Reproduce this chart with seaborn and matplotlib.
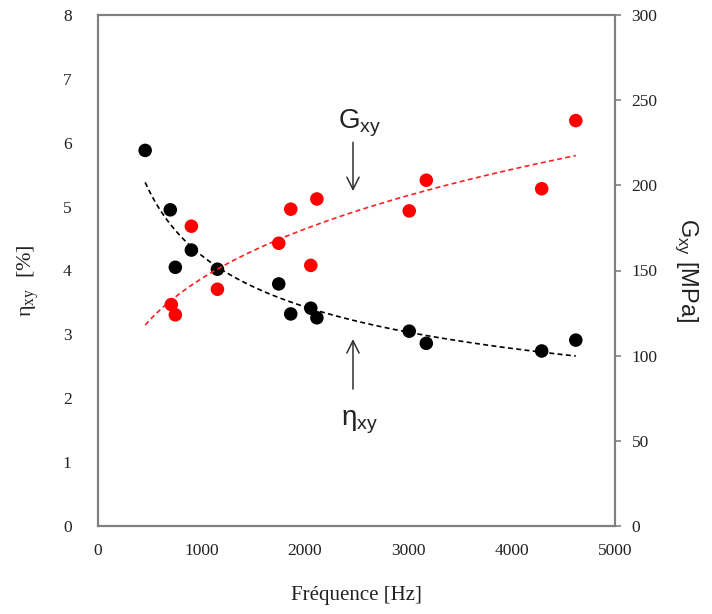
import numpy as np
import pandas as pd
import matplotlib
matplotlib.use("Agg")
import matplotlib.pyplot as plt
import seaborn as sns

# --- data ---
freq_eta = [456, 699, 748, 903, 1155, 1748, 1864, 2058, 2117, 3010, 3175, 4291, 4621]
eta = [5.88, 4.95, 4.05, 4.32, 4.02, 3.79, 3.32, 3.41, 3.26, 3.05, 2.86, 2.74, 2.91]
freq_G = [709, 748, 903, 1155, 1748, 1864, 2058, 2117, 3010, 3175, 4291, 4621]
G = [130, 124, 176, 139, 166, 186, 153, 192, 185, 203, 198, 238]
# power-law trend lines (a * f^b)
eta_trend = (5.38 * 456 ** 0.304, -0.304)
G_trend = (118.0 / 456 ** 0.264, 0.264)
trend_range = [456, 4621]
xticks = [0, 1000, 2000, 3000, 4000, 5000]
yticks_left = [0, 1, 2, 3, 4, 5, 6, 7, 8]
yticks_right = [0, 50, 100, 150, 200, 250, 300]

sns.set_theme(style="white")
plt.rcParams["font.family"] = ["Liberation Serif", "DejaVu Serif"]
plt.rcParams["mathtext.fontset"] = "custom"
plt.rcParams["mathtext.rm"] = "Liberation Sans"

fig = plt.figure(figsize=(7.12, 6.14), dpi=100)
ax = fig.add_axes([98 / 712, 1 - 526 / 614, (615 - 98) / 712, (526 - 15) / 614])
ax2 = ax.twinx()

df_eta = pd.DataFrame({"f": freq_eta, "v": eta})
df_G = pd.DataFrame({"f": freq_G, "v": G})
ff = np.linspace(trend_range[0], trend_range[1], 200)
df_eta_t = pd.DataFrame({"f": ff, "v": eta_trend[0] * ff ** eta_trend[1]})
df_G_t = pd.DataFrame({"f": ff, "v": G_trend[0] * ff ** G_trend[1]})

sns.lineplot(data=df_eta_t, x="f", y="v", ax=ax, color="black", lw=1.2,
             linestyle=(0, (3, 2)), zorder=3)
sns.scatterplot(data=df_eta, x="f", y="v", ax=ax, color="black", s=95,
                edgecolor="none", zorder=4)
sns.lineplot(data=df_G_t, x="f", y="v", ax=ax2, color="#ff2020", lw=1.2,
             linestyle=(0, (3, 2)), zorder=3)
sns.scatterplot(data=df_G, x="f", y="v", ax=ax2, color="#ff0000", s=95,
                edgecolor="none", zorder=4)

ax.set_xlim(0, 5000)
ax.set_ylim(0, 8)
ax2.set_ylim(0, 300)
ax.set_xticks(xticks)
ax.set_yticks(yticks_left)
ax2.set_yticks(yticks_right)
ax.tick_params(axis="x", labelsize=12.5, length=0, pad=12, labelcolor="#222222")
ax.tick_params(axis="y", labelsize=12.5, length=0, pad=19, labelcolor="#222222")
ax2.tick_params(axis="y", labelsize=12.5, length=4, width=1.2, color="#808080",
                direction="out", right=True, pad=8, labelcolor="#222222")

for a in (ax, ax2):
    for sp in a.spines.values():
        sp.set_color("#808080")
        sp.set_linewidth(1.5)
    a.grid(False)

ax.set_xlabel("Fréquence [Hz]", fontsize=15, labelpad=20, color="#222222")
ax.set_ylabel(r"$\mathregular{\eta_{xy}}$  [%]", fontsize=16, color="#222222")
ax.yaxis.set_label_coords(-0.11, 0.48)
ax2.set_ylabel(r"$\mathregular{G_{xy}}$ [MPa]", fontsize=17, rotation=270,
               labelpad=30, family="Liberation Sans", color="#222222")

# annotations
ax.text(2530, 6.3, r"$\mathregular{G_{xy}}$", fontsize=20, ha="center",
        va="center", family="Liberation Sans", color="#222222")
ax.annotate("", xy=(2466, 5.2), xytext=(2466, 6.05),
            arrowprops=dict(arrowstyle="->", color="#303030", lw=1.1,
                            mutation_scale=22))
ax.text(2530, 1.62, r"$\mathregular{\eta_{xy}}$", fontsize=20, ha="center",
        va="center", family="Liberation Sans", color="#222222")
ax.annotate("", xy=(2466, 2.97), xytext=(2466, 2.1),
            arrowprops=dict(arrowstyle="->", color="#303030", lw=1.1,
                            mutation_scale=22))

fig.savefig("out.png", dpi=100)
